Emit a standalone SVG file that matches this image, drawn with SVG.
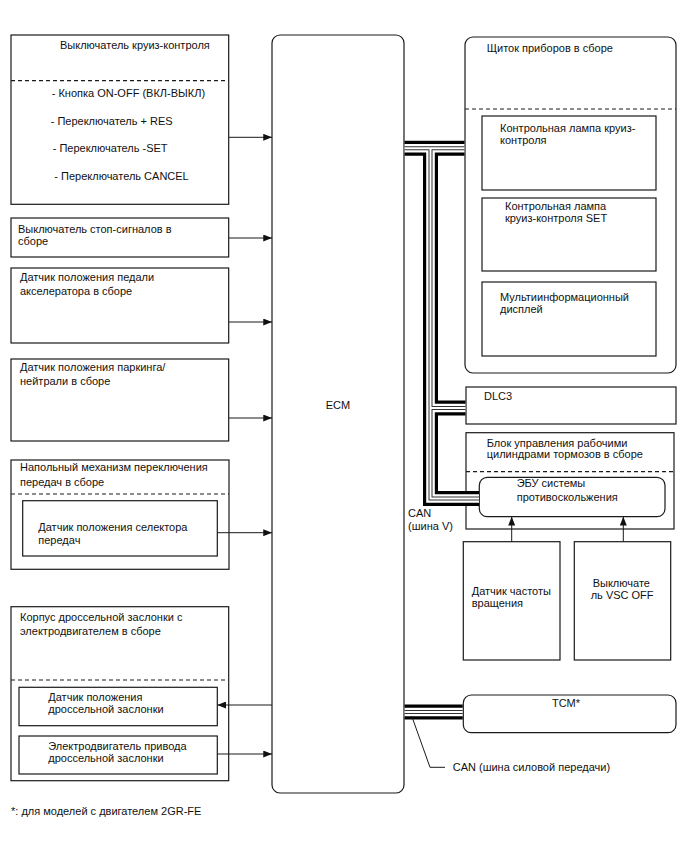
<svg xmlns="http://www.w3.org/2000/svg" width="688" height="852" viewBox="0 0 688 852">
<defs>
<marker id="ah" viewBox="0 0 10 8" refX="10" refY="4" markerWidth="9" markerHeight="7" markerUnits="userSpaceOnUse" orient="auto">
<path d="M0,0 L10,4 L0,8 z" fill="#111"/>
</marker>
</defs>
<style>
text{font-family:"Liberation Sans",Arial,sans-serif;font-size:11px;fill:#111}
.box{fill:#fff;stroke:#1a1a1a;stroke-width:1.2}
.dash{fill:none;stroke:#1a1a1a;stroke-width:1.2;stroke-dasharray:4 3}
.arr{fill:none;stroke:#1a1a1a;stroke-width:1;marker-end:url(#ah)}
.bus1{fill:none;stroke:#000;stroke-width:15;stroke-linejoin:miter}
.bus2{fill:none;stroke:#fff;stroke-width:8.6;stroke-linejoin:miter}
.bus3{fill:none;stroke:#333;stroke-width:4;stroke-linejoin:miter}
.bus4{fill:none;stroke:#fff;stroke-width:2;stroke-linejoin:miter}
.thin{fill:none;stroke:#1a1a1a;stroke-width:1}
</style>
<rect width="688" height="852" fill="#fff"/>

<g id="cruise-switch">
<rect class="box" x="11" y="35" width="217.7" height="169.3"/>
<path class="dash" d="M11 80.7 H228.7"/>
<text x="60" y="49">Выключатель круиз-контроля</text>
<text x="51.7" y="97.3">- Кнопка ON-OFF (ВКЛ-ВЫКЛ)</text>
<text x="50.7" y="124.7">- Переключатель + RES</text>
<text x="52.7" y="152.3">- Переключатель -SET</text>
<text x="54.3" y="180">- Переключатель CANCEL</text>
</g>

<g id="stop-switch">
<rect class="box" x="11" y="218" width="217.7" height="39"/>
<text x="18" y="233">Выключатель стоп-сигналов в</text>
<text x="18" y="245">сборе</text>
</g>

<g id="accel-sensor">
<rect class="box" x="11" y="268" width="217.7" height="75"/>
<text x="20" y="281">Датчик положения педали</text>
<text x="20" y="295">акселератора в сборе</text>
</g>

<g id="park-sensor">
<rect class="box" x="11" y="359" width="217.7" height="82"/>
<text x="20" y="371">Датчик положения паркинга/</text>
<text x="20" y="385">нейтрали в сборе</text>
</g>

<g id="shifter">
<rect class="box" x="11" y="460" width="218" height="109.3"/>
<path class="dash" d="M11 494 H229"/>
<text x="20" y="470.7">Напольный механизм переключения</text>
<text x="20" y="485.7">передач в сборе</text>
<g id="selector-sensor">
<rect class="box" x="22.7" y="500.7" width="194.6" height="55.3"/>
<text x="38.3" y="531.3">Датчик положения селектора</text>
<text x="38.3" y="544">передач</text>
</g>
</g>

<g id="throttle-body">
<rect class="box" x="11" y="606.7" width="217.7" height="174"/>
<path class="dash" d="M11 680 H228.7"/>
<text x="20" y="620.7">Корпус дроссельной заслонки с</text>
<text x="20" y="634.7">электродвигателем в сборе</text>
<g id="throttle-sensor">
<rect class="box" x="19" y="687.3" width="198.3" height="38.4"/>
<text x="48.3" y="700.7">Датчик положения</text>
<text x="48.3" y="713.3">дроссельной заслонки</text>
</g>
<g id="throttle-motor">
<rect class="box" x="19" y="736" width="198.3" height="38"/>
<text x="48.3" y="750">Электродвигатель привода</text>
<text x="48.3" y="762.3">дроссельной заслонки</text>
</g>
</g>

<g id="ecm">
<rect class="box" x="272" y="35" width="132" height="758" rx="8"/>
<text x="338" y="409" text-anchor="middle">ECM</text>
</g>

<g id="instrument-cluster">
<rect class="box" x="465" y="37" width="211" height="336" rx="8"/>
<path class="dash" d="M465 109 H676"/>
<text x="486.7" y="52.3">Щиток приборов в сборе</text>
<g id="cruise-lamp">
<rect class="box" x="482" y="116" width="174" height="74"/>
<text x="500" y="132.3">Контрольная лампа круиз-</text>
<text x="500" y="144">контроля</text>
</g>
<g id="set-lamp">
<rect class="box" x="482" y="198" width="174" height="73"/>
<text x="505" y="210">Контрольная лампа</text>
<text x="505" y="222.3">круиз-контроля SET</text>
</g>
<g id="multi-display">
<rect class="box" x="482" y="282" width="174" height="74"/>
<text x="500" y="300.7">Мультиинформационный</text>
<text x="500" y="313">дисплей</text>
</g>
</g>

<g id="dlc3">
<rect class="box" x="466" y="387" width="210" height="37"/>
<text x="484" y="400">DLC3</text>
</g>

<g id="brake-actuator">
<rect class="box" x="466" y="432.7" width="208" height="96.3"/>
<path class="dash" d="M466 471.7 H674"/>
<text x="486.7" y="446.7">Блок управления рабочими</text>
<text x="486.7" y="458.3">цилиндрами тормозов в сборе</text>
<g id="skid-ecu">
<rect class="box" x="479.3" y="477.3" width="185.7" height="39.4" rx="8"/>
<text x="516.7" y="487.3">ЭБУ системы</text>
<text x="516.7" y="501.3">противоскольжения</text>
</g>
</g>

<g id="speed-sensor">
<rect class="box" x="463.3" y="541.7" width="96.7" height="118.3"/>
<text x="471.7" y="595">Датчик частоты</text>
<text x="471.7" y="606.7">вращения</text>
</g>

<g id="vsc-off">
<rect class="box" x="574.3" y="541.7" width="96.4" height="118.3"/>
<text x="592.7" y="587.3">Выключате</text>
<text x="590.7" y="599">ль VSC OFF</text>
</g>

<g id="tcm">
<rect class="box" x="463.3" y="695" width="212.7" height="37.7" rx="8"/>
<text x="566" y="707" text-anchor="middle">TCM*</text>
</g>

<g id="connectors">
<g id="can-bus">
<path class="bus1" d="M404.6 148.3 H464.4 M430.5 148.3 V498.5 H479 M430.5 408 H465.4 M404.6 712 H462.7"/>
<path class="bus2" d="M404.6 148.3 H464.4 M430.5 148.3 V498.5 H479 M430.5 408 H465.4 M404.6 712 H462.7"/>
<path class="bus3" d="M404.6 148.3 H464.4 M430.5 148.3 V498.5 H479 M430.5 408 H465.4 M404.6 712 H462.7"/>
<path class="bus4" d="M404.6 148.3 H464.4 M430.5 148.3 V498.5 H479 M430.5 408 H465.4 M404.6 712 H462.7"/>
</g>
<path class="arr" d="M229 137.3 H272"/>
<path class="arr" d="M229 238 H272"/>
<path class="arr" d="M229 322 H272"/>
<path class="arr" d="M229 418 H272"/>
<path class="arr" d="M217.3 532.7 H272"/>
<path class="arr" d="M272 705 H217.3"/>
<path class="arr" d="M217.3 754 H272"/>
<path class="arr" d="M511.7 541.7 V516.7"/>
<path class="arr" d="M623.3 541.7 V516.7"/>
<path class="thin" d="M411.7 716 L430 767.3 H445"/>
</g>

<text x="408" y="517">CAN</text>
<text x="408" y="530">(шина V)</text>
<text x="452.7" y="771">CAN (шина силовой передачи)</text>
<text x="11" y="815">*: для моделей с двигателем 2GR-FE</text>
</svg>
